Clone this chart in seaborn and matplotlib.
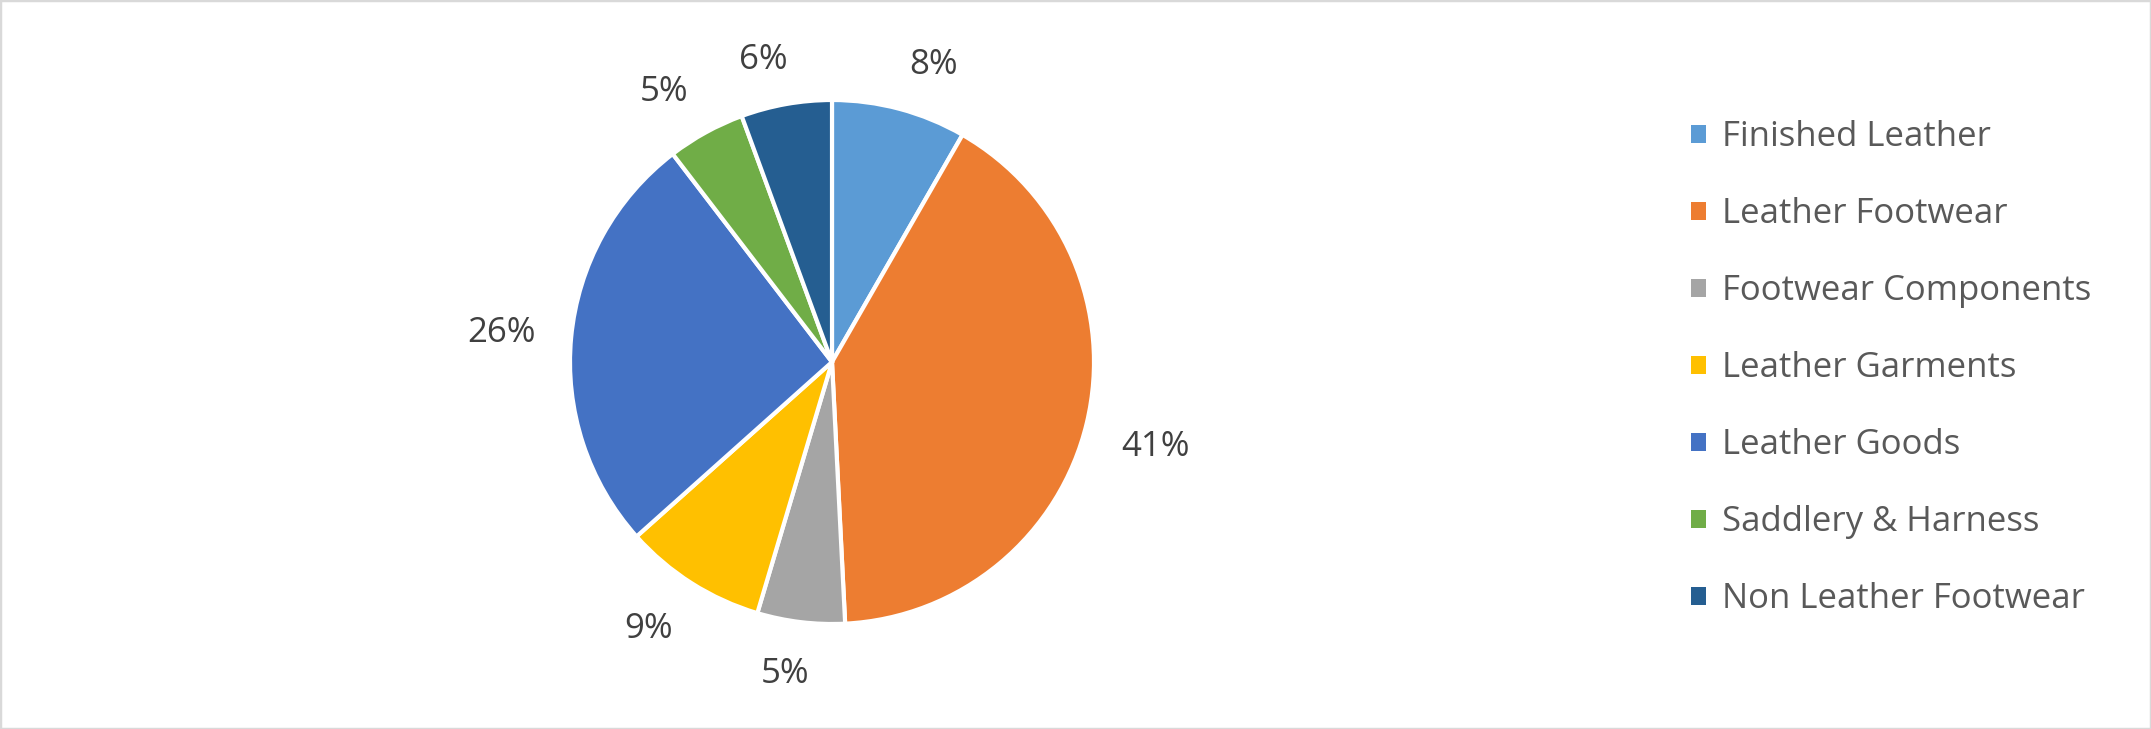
import numpy as np
import matplotlib
matplotlib.use("Agg")
import matplotlib.pyplot as plt
from matplotlib.patches import Patch, Rectangle
from matplotlib.transforms import IdentityTransform
import seaborn as sns

# ---- data ----
categories = ["Finished Leather", "Leather Footwear", "Footwear Components",
              "Leather Garments", "Leather Goods", "Saddlery & Harness",
              "Non Leather Footwear"]
shares = [8.3, 40.9, 5.4, 8.8, 26.2, 4.8, 5.6]
colors = ["#5B9BD5", "#ED7D31", "#A5A5A5", "#FFC000", "#4472C4", "#70AD47", "#255E91"]

sns.set_theme(style="white")
plt.rcParams["font.family"] = ["Open Sans", "DejaVu Sans"]

W, H, DPI = 2151, 729, 100
fig = plt.figure(figsize=(W / DPI, H / DPI), dpi=DPI)
fig.patch.set_facecolor("white")

# pie axes: centre (832, 362) px from top-left, radius 262 px
cx, cy, R = 832, 362, 262
half = 350
ax = fig.add_axes([(cx - half) / W, (H - cy - half) / H, 2 * half / W, 2 * half / H])

pal = sns.color_palette(colors)
wedges, _ = ax.pie(shares, colors=pal, startangle=90, counterclock=False, radius=1.0,
                   wedgeprops=dict(edgecolor="white", linewidth=3.0))
lim = half / R
ax.set_xlim(-lim, lim)
ax.set_ylim(-lim, lim)
ax.axis("off")

fs = 25
label_color = "#404040"
texts = []
total = float(sum(shares))
for w, v in zip(wedges, shares):
    t = ax.text(0, 0, f"{round(v / total * 100):d}%", fontsize=fs, color=label_color,
                ha="center", va="baseline")
    texts.append((w, t))

fig.canvas.draw()
renderer = fig.canvas.get_renderer()
c = ax.transData.transform((0, 0))
rpx = ax.transData.transform((1, 0))[0] - c[0]
cap = fs * DPI / 72.0 * 0.714
for w, t in texts:
    mid = np.deg2rad((w.theta1 + w.theta2) / 2.0)
    dx, dy = np.cos(mid), np.sin(mid)
    anchor = c + (rpx * 1.137) * np.array([dx, dy])
    bb = t.get_window_extent(renderer)
    ox = bb.width / 2.0 * np.clip(dx * 4, -1, 1)
    oy = cap / 2.0 * np.clip(dy * 4, -1, 1)
    pos = anchor + np.array([ox, oy - cap / 2.0])
    t.set_transform(IdentityTransform())
    t.set_position((pos[0], pos[1]))

# legend
handles = [Patch(facecolor=c_, edgecolor="none") for c_ in pal]
leg = fig.legend(handles, categories, loc="upper left",
                 bbox_to_anchor=(1691 / W, 1 - 120 / H), frameon=False,
                 fontsize=fs, labelcolor="#595959",
                 handlelength=0.43, handleheight=0.43, handletextpad=0.45,
                 labelspacing=1.24, borderpad=0, borderaxespad=0)

# chart border
fig.patches.append(Rectangle((0, 0), 1, 1, transform=fig.transFigure, fill=False,
                             edgecolor="#D9D9D9", linewidth=2.5, zorder=10))

fig.savefig("out.png", dpi=DPI, facecolor="white")
